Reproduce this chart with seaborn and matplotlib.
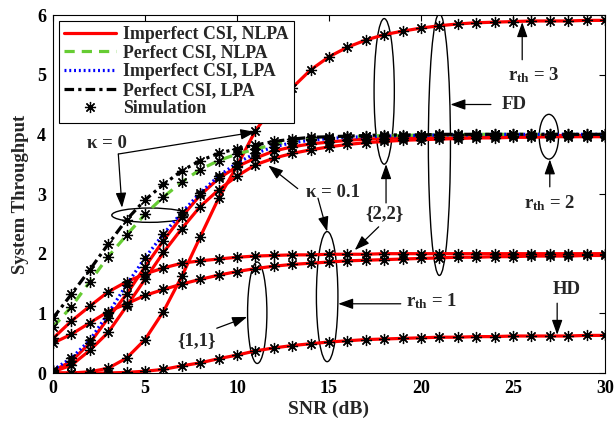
import numpy as np
import pandas as pd
import matplotlib
matplotlib.use("Agg")
import matplotlib.pyplot as plt
from matplotlib.lines import Line2D
from matplotlib.patches import Ellipse
import seaborn as sns

# SNR grid (dB) shared by every curve
snr = list(range(0, 31))

# Full-duplex, r_th = 2, kappa = 0, perfect CSI with LPA
perfect_lpa = [0.92, 1.32, 1.73, 2.16, 2.57, 2.90, 3.16, 3.39, 3.56, 3.68, 3.76,
               3.82, 3.88, 3.92, 3.95, 3.96, 3.97, 3.98, 3.99, 3.99, 3.99, 4.00,
               4.00, 4.00, 4.00, 4.00, 4.00, 4.00, 4.00, 4.00, 4.00]
# Full-duplex, r_th = 2, kappa = 0, perfect CSI with NLPA
perfect_nlpa = [0.77, 1.11, 1.53, 1.95, 2.31, 2.66, 2.95, 3.20, 3.41, 3.56, 3.67,
                3.75, 3.83, 3.88, 3.92, 3.94, 3.96, 3.97, 3.98, 3.98, 3.99, 3.99,
                3.99, 4.00, 4.00, 4.00, 4.00, 4.00, 4.00, 4.00, 4.00]
# Full-duplex, r_th = 2, kappa = 0, imperfect CSI with LPA
imperfect_lpa = [0.05, 0.25, 0.55, 1.00, 1.48, 1.93, 2.33, 2.69, 3.02, 3.30, 3.52,
                 3.68, 3.79, 3.86, 3.90, 3.93, 3.95, 3.96, 3.97, 3.98, 3.98, 3.99,
                 3.99, 3.99, 4.00, 4.00, 4.00, 4.00, 4.00, 4.00, 4.00]

# Imperfect CSI with NLPA, one list per configuration
nlpa_rth2_k0 = [0.03, 0.20, 0.50, 0.92, 1.32, 1.78, 2.22, 2.62, 2.98, 3.26, 3.46,
                3.60, 3.72, 3.79, 3.84, 3.87, 3.90, 3.92, 3.93, 3.94, 3.95, 3.96,
                3.96, 3.97, 3.97, 3.97, 3.98, 3.98, 3.98, 3.98, 3.98]
nlpa_rth2_k01 = [0.02, 0.13, 0.38, 0.68, 1.12, 1.57, 2.02, 2.42, 2.79, 3.07, 3.30,
                 3.49, 3.60, 3.68, 3.74, 3.79, 3.83, 3.86, 3.88, 3.90, 3.91, 3.92,
                 3.93, 3.94, 3.94, 3.95, 3.95, 3.96, 3.96, 3.96, 3.96]
nlpa_rth3 = [0.00, 0.00, 0.02, 0.08, 0.25, 0.56, 1.03, 1.62, 2.28, 2.93, 3.47,
             4.06, 4.47, 4.78, 5.08, 5.30, 5.46, 5.58, 5.67, 5.73, 5.78, 5.82,
             5.85, 5.87, 5.88, 5.89, 5.90, 5.90, 5.90, 5.91, 5.91]
nlpa_rth1_22 = [0.58, 0.87, 1.12, 1.36, 1.53, 1.66, 1.76, 1.84, 1.88, 1.91, 1.94,
                1.96, 1.97, 1.98, 1.98, 1.99, 1.99, 1.99, 2.00, 2.00, 2.00, 2.00,
                2.00, 2.00, 2.00, 2.00, 2.00, 2.00, 2.00, 2.00, 2.00]
nlpa_rth1_11 = [0.50, 0.65, 0.84, 1.03, 1.16, 1.30, 1.40, 1.49, 1.57, 1.64, 1.70,
                1.75, 1.79, 1.82, 1.84, 1.86, 1.88, 1.89, 1.90, 1.91, 1.92, 1.93,
                1.94, 1.94, 1.95, 1.95, 1.96, 1.96, 1.96, 1.97, 1.97]
nlpa_hd = [0.00, 0.00, 0.00, 0.00, 0.01, 0.03, 0.06, 0.12, 0.17, 0.24, 0.30,
           0.37, 0.42, 0.46, 0.49, 0.52, 0.54, 0.56, 0.57, 0.58, 0.59, 0.60,
           0.60, 0.61, 0.61, 0.62, 0.62, 0.62, 0.62, 0.63, 0.63]

legend_labels = ["Imperfect CSI, NLPA", "Perfect CSI, NLPA",
                 "Imperfect CSI, LPA", "Perfect CSI, LPA", "Simulation"]
x_ticks = [0, 5, 10, 15, 20, 25, 30]
y_ticks = [0, 1, 2, 3, 4, 5, 6]

sns.set_style("white")
plt.rcParams["font.family"] = ["Liberation Serif", "DejaVu Serif"]
plt.rcParams["font.weight"] = "bold"
plt.rcParams["mathtext.fontset"] = "custom"
plt.rcParams["mathtext.rm"] = "Liberation Serif:bold"
plt.rcParams["mathtext.it"] = "Liberation Serif:bold"
plt.rcParams["mathtext.bf"] = "Liberation Serif:bold"

RED = "#FF0000"
GREEN = "#66CC33"
BLUE = "#0000FF"
LW = 2.3

fig = plt.figure(figsize=(6.16, 4.24), dpi=100)
ax = fig.add_axes([53 / 616, 1 - 373 / 424, 552 / 616, 358 / 424])

red_curves = [nlpa_hd, nlpa_rth1_11, nlpa_rth1_22, nlpa_rth3, nlpa_rth2_k01, nlpa_rth2_k0]
for ys in red_curves:
    sns.lineplot(x=snr, y=ys, ax=ax, color=RED, linewidth=LW, solid_capstyle="butt")

sns.lineplot(x=snr, y=perfect_nlpa, ax=ax, color=GREEN, linewidth=LW,
             linestyle=(0, (3.2, 2.2)))
sns.lineplot(x=snr, y=imperfect_lpa, ax=ax, color=BLUE, linewidth=LW,
             linestyle=(0, (0.6, 0.9)))
sns.lineplot(x=snr, y=perfect_lpa, ax=ax, color="black", linewidth=LW,
             linestyle=(0, (3.0, 1.3, 1.0, 1.3)))

# Simulation points on every curve
for ys in red_curves + [perfect_nlpa, imperfect_lpa, perfect_lpa]:
    sns.lineplot(x=snr, y=ys, ax=ax, linestyle="", marker=(8, 2, 0),
                 markersize=8, markeredgecolor="black", markeredgewidth=0.9,
                 color="black")

ax.set_xlim(0, 30)
ax.set_ylim(0, 6)
ax.set_xticks(x_ticks)
ax.set_yticks(y_ticks)
ax.set_xticklabels([str(t) for t in x_ticks], fontsize=13, fontweight="bold")
ax.set_yticklabels([str(t) for t in y_ticks], fontsize=13, fontweight="bold")
ax.tick_params(direction="in", top=True, right=True, length=4.5, width=0.8,
               pad=5, colors="black")
for sp in ax.spines.values():
    sp.set_visible(True)
    sp.set_color("black")
    sp.set_linewidth(0.8)

ax.set_xlabel("SNR (dB)", fontsize=14, fontweight="bold", labelpad=3)
ax.set_ylabel("System Throughput", fontsize=13.5, fontweight="bold", labelpad=6)

handles = [
    Line2D([], [], color=RED, lw=LW),
    Line2D([], [], color=GREEN, lw=LW, linestyle=(0, (3.2, 2.2))),
    Line2D([], [], color=BLUE, lw=LW, linestyle=(0, (0.6, 0.9))),
    Line2D([], [], color="black", lw=LW, linestyle=(0, (3.0, 1.3, 1.0, 1.3))),
    Line2D([], [], color="black", linestyle="", marker=(8, 2, 0), markersize=8,
           markeredgewidth=0.9),
]
leg = ax.legend(handles, legend_labels, loc="upper left",
                bbox_to_anchor=(0.011, 0.984), borderaxespad=0,
                prop={"family": "Liberation Serif", "weight": "bold", "size": 12.8},
                handlelength=2.9, handletextpad=0.4, labelspacing=0.09,
                borderpad=0.3, fancybox=False, framealpha=1)
leg.get_frame().set_edgecolor("black")
leg.get_frame().set_linewidth(0.8)

arrow_kw = dict(arrowstyle="-|>,head_length=0.9,head_width=0.32", color="black",
                lw=0.9, shrinkA=0, shrinkB=0, mutation_scale=10)
txt_kw = dict(fontsize=13.5, fontweight="bold", ha="center", va="center")


def arrow(x0, y0, x1, y1):
    ax.annotate("", xy=(x1, y1), xytext=(x0, y0), arrowprops=arrow_kw)


def ellipse(cx, cy, w, h):
    ax.add_patch(Ellipse((cx, cy), w, h, fill=False, edgecolor="black", lw=1.0))


# kappa = 0 group
ax.text(2.95, 3.84, "κ = 0", **txt_kw)
arrow(3.55, 3.67, 11.0, 4.04)
arrow(3.55, 3.67, 3.75, 2.77)
ellipse(5.27, 2.645, 4.15, 0.24)

# kappa = 0.1
ax.text(15.2, 3.02, "κ = 0.1", **txt_kw)
arrow(13.3, 3.09, 11.7, 3.48)
arrow(14.4, 2.93, 14.9, 2.37)

# r_th = 1
ellipse(14.9, 1.28, 1.17, 2.18)
ax.text(20.6, 1.2, r"r$_{\mathbf{th}}$ = 1", **txt_kw)
arrow(18.9, 1.16, 15.5, 1.16)

# {1,1}
ellipse(11.1, 1.01, 1.05, 1.70)
ax.text(7.8, 0.55, "{1,1}", **txt_kw)
arrow(8.9, 0.75, 10.55, 0.94)

# {2,2}
ellipse(18.0, 4.72, 1.1, 2.44)
ax.text(18.0, 2.68, "{2,2}", **txt_kw)
arrow(18.1, 2.85, 18.1, 3.5)
arrow(17.7, 2.45, 16.4, 2.06)

# FD
ellipse(21.0, 3.83, 1.2, 4.39)
ax.text(25.05, 4.5, "FD", **txt_kw)
arrow(23.8, 4.5, 21.6, 4.5)

# r_th = 3
ax.text(26.1, 5.0, r"r$_{\mathbf{th}}$ = 3", **txt_kw)
arrow(25.5, 5.25, 25.5, 5.88)

# r_th = 2
ellipse(26.95, 3.96, 1.05, 0.75)
ax.text(27.0, 2.85, r"r$_{\mathbf{th}}$ = 2", **txt_kw)
arrow(27.0, 3.12, 27.0, 3.58)

# HD
ax.text(27.9, 1.4, "HD", **txt_kw)
arrow(27.4, 1.17, 27.4, 0.64)

fig.savefig("out.png", dpi=100)
